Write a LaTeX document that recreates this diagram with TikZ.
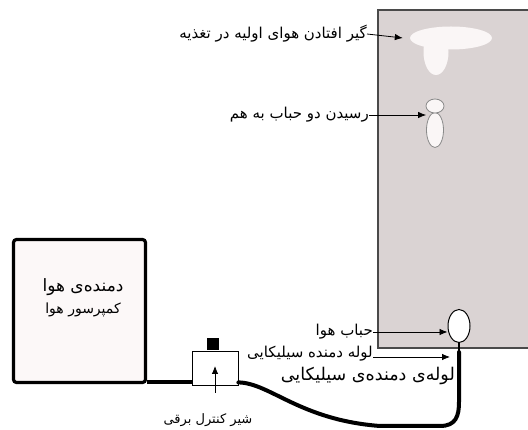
\documentclass[tikz,border=0pt]{standalone}
\usepackage{fontspec}
\newfontfamily\fa[Script=Arabic]{DejaVu Sans}
\TeXXeTstate=1
\usetikzlibrary{arrows.meta,shapes.geometric}
\definecolor{tankgray}{HTML}{DAD3D3}
\definecolor{tankedge}{HTML}{4A4A4A}
\definecolor{airwhite}{HTML}{FAF6F6}
\definecolor{boxfill}{HTML}{FCF8F8}
\definecolor{bubedge}{HTML}{8A8A8A}

\begin{document}
\begin{tikzpicture}[x=1pt,y=-1pt,
  lbl/.style={font=\fa\fontsize{15}{17}\selectfont, inner sep=0pt, anchor=east},
  ptr/.style={-{Latex[length=8pt,width=6.5pt]}, line width=0.8pt},
  hose/.style={line width=4pt, line join=round},
  bub/.style={ellipse, inner sep=0pt, fill=airwhite, draw=bubedge, line width=0.8pt},
]
\useasboundingbox (0,0) rectangle (528,430);

% column of liquid
\fill[tankgray] (378,10) rectangle (528,348);
\draw[tankedge, line width=1.2pt] (528,10) -- (378,10) -- (378,348) -- (528,348);

% air trapped in the feed
\node[ellipse, inner sep=0pt, fill=airwhite, minimum width=25, minimum height=46] (stem) at (436,52) {};
\node[ellipse, inner sep=0pt, fill=airwhite, minimum width=82, minimum height=23] (trap) at (451,38) {};

% two bubbles meeting
\node[bub, minimum width=17, minimum height=35] (b2) at (435,130) {};
\node[bub, minimum width=18, minimum height=14] (b1) at (435,106) {};

% bubble at the nozzle
\node[bub, draw=black, fill=white, line width=1pt, minimum width=22, minimum height=33] (air) at (459,326) {};

% compressor
\node[draw, line width=3.2pt, rounded corners=3pt, fill=boxfill,
      minimum width=132, minimum height=143] (comp) at (79.5,311) {};
\node[font=\fa\fontsize{17}{19}\selectfont, inner sep=0pt] (ct) at (83,287) {\beginR دمنده‌ی هوا\endR};
\node[font=\fa\fontsize{14}{16}\selectfont, inner sep=0pt] (cs) at (83,310) {\beginR کمپرسور هوا\endR};

% solenoid valve
\node[draw, line width=0.8pt, fill=white, minimum width=46, minimum height=34, inner sep=0pt] (valve) at (215,368) {};
\node[fill=black, minimum width=12, minimum height=12, inner sep=0pt, anchor=south] (knob) at ([xshift=-2pt]valve.north) {};

% hoses
\draw[hose] ([yshift=3pt]valve.south west) -- ([yshift=3pt]valve.south west -| comp.east);
\draw[line width=1.6pt] (air.south) -- (459,352);
\draw[hose, line cap=round] ([yshift=3pt]valve.south east)
  .. controls (270,383) and (300,420) .. (380,426) -- (440,426)
  .. controls (456,426) and (459,416) .. (459,402) -- (459,352);

% labels and pointers
\node[lbl] (t1) at (367,34) {\beginR گیر افتادن هوای اولیه در تغذیه\endR};
\draw[ptr] (t1.east) -- ([xshift=-7pt]trap.west);

\node[lbl] (t2) at (369,115) {\beginR رسیدن دو حباب به هم\endR};
\draw[ptr] (t2.east) -- (b2.west |- t2.east);

\node[lbl] (t3) at (373,332) {\beginR حباب هوا\endR};
\draw[ptr] (t3.east) -- (air.west |- t3.east);

\node[lbl] (t4) at (373,354) {\beginR لوله دمنده سیلیکایی\endR};
\coordinate (tubetip) at (450,357);
\draw[ptr] (t4.east |- tubetip) -- (tubetip);

\node[lbl, font=\fa\fontsize{17.5}{20}\selectfont] (t5) at (455,376) {\beginR لوله‌ی دمنده‌ی سیلیکایی\endR};

\node[font=\fa\fontsize{13}{15}\selectfont, inner sep=0pt] (vl) at (208,420) {\beginR شیر کنترل برقی\endR};
\coordinate (vin) at (215,366);
\coordinate (vtail) at (215,393);
\draw[ptr] (vtail) -- (vin);
\end{tikzpicture}
\end{document}
